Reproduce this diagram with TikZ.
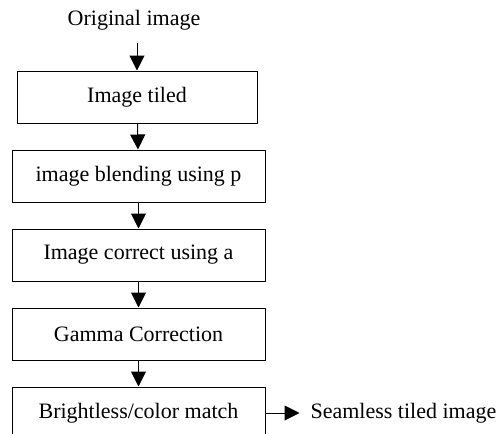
\documentclass[tikz,border=0pt]{standalone}
\usepackage{fontspec}
\setmainfont{Liberation Serif}
\usetikzlibrary{arrows.meta, positioning}
\tikzstyle{stepbox} = [rectangle, minimum width=126.5pt, minimum height=26pt, text centered, draw=black, line width=0.5pt]
\tikzstyle{arrow} = [line width=0.5pt, -{Triangle[width=7.5pt,length=7.5pt]}]

\begin{document}
\begin{tikzpicture}[node distance=13pt, font=\fontsize{11}{13}\selectfont]
\useasboundingbox (0,0) rectangle (249.5pt,-217pt);
\clip (0,0) rectangle (249.5pt,-217pt);

\node (tiled) [stepbox, minimum width=120pt] at (68.5pt,-48.5pt) {Image tiled};
\node (orig) [above=16.5pt of tiled, xshift=-1.5pt] {Original image};

\node (blend) [stepbox, below=of tiled, xshift=0.75pt] {image blending using p};
\node (correct) [stepbox, below=of blend] {Image correct using a};
\node (gamma) [stepbox, below=of correct] {Gamma Correction};
\node (bright) [stepbox, below=of gamma] {Brightless/color match};

\node (seam) [right=19pt of bright] {Seamless tiled image};

\draw [arrow] ([yshift=14pt]tiled.north) -- (tiled);
\draw [arrow] (tiled) -- (blend);
\draw [arrow] (blend) -- (correct);
\draw [arrow] (correct) -- (gamma);
\draw [arrow] (gamma) -- (bright);
\draw [arrow, shorten >=2pt] (bright) -- (seam);
\end{tikzpicture}
\end{document}
